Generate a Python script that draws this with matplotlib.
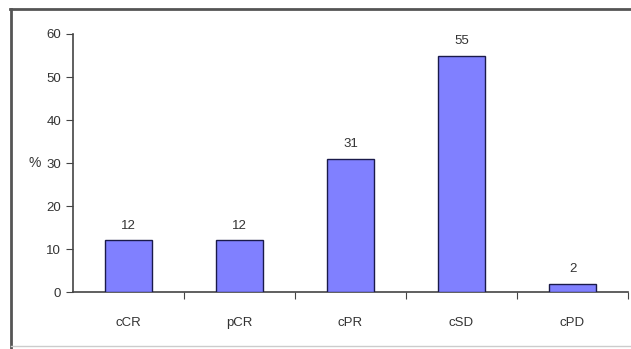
import matplotlib
matplotlib.use("Agg")
import matplotlib.pyplot as plt
from matplotlib.lines import Line2D

categories = ["cCR", "pCR", "cPR", "cSD", "cPD"]
values = [12, 12, 31, 55, 2]

plt.rcParams['font.family'] = ['Liberation Sans', 'DejaVu Sans']

fig = plt.figure(figsize=(6.31, 3.49), dpi=100)
ax = fig.add_axes([73 / 631, 0.163, 555 / 631, 0.7396])

x = list(range(len(categories)))
ax.bar(x, values, width=0.42, color="#8080ff", edgecolor="#1a1a4a", linewidth=1.0, zorder=3)
for xi, v in zip(x, values):
    ax.text(xi, v + 2, str(v), ha="center", va="bottom", fontsize=9.5, color="#333333")

ax.set_xlim(-0.5, len(categories) - 0.5)
ax.set_ylim(0, 60)
ax.set_yticks(range(0, 61, 10))

# ticks between categories, labels at centres
ax.set_xticks([i + 0.5 for i in x])
ax.set_xticklabels([])
ax.set_xticks(x, minor=True)
ax.set_xticklabels(categories, minor=True)
ax.tick_params(axis="x", which="major", length=5, direction="out", color="#444444")
ax.tick_params(axis="x", which="minor", length=0, pad=18, labelsize=9.5, labelcolor="#333333")
ax.tick_params(axis="y", length=5, direction="out", color="#444444", labelsize=9.5, labelcolor="#333333")

for s in ["top", "right"]:
    ax.spines[s].set_visible(False)
for s in ["left", "bottom"]:
    ax.spines[s].set_color("#444444")
    ax.spines[s].set_linewidth(1.2)

fig.text(41 / 631, 1 - 163 / 349, "%", ha="right", va="center", fontsize=10, color="#333333")

# frame around the chart area
fig.add_artist(Line2D([10 / 631, 1], [1 - 9 / 349, 1 - 9 / 349], transform=fig.transFigure, color="#555555", linewidth=2))
fig.add_artist(Line2D([11 / 631, 11 / 631], [1 - 9 / 349, 0], transform=fig.transFigure, color="#555555", linewidth=2))
fig.add_artist(Line2D([11 / 631, 1], [1 - 346 / 349, 1 - 346 / 349], transform=fig.transFigure, color="#cccccc", linewidth=1))

fig.savefig("out.png", dpi=100)
